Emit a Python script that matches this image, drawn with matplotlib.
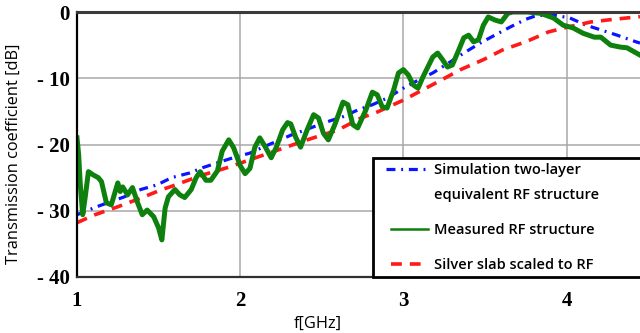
import matplotlib
matplotlib.use("Agg")
import matplotlib.pyplot as plt
from matplotlib.legend_handler import HandlerLine2D
from matplotlib.lines import Line2D
import numpy as np

# frequency axis [GHz] and transmission [dB]
sim_f = [1.00, 1.12, 1.20, 1.29, 1.39, 1.49, 1.58, 1.69, 1.77, 1.88, 1.97, 2.06, 2.14,
         2.31, 2.53, 2.63, 2.72, 2.81, 2.90, 3.00, 3.09, 3.18, 3.29, 3.37, 3.47, 3.56,
         3.66, 3.75, 3.82, 3.93, 4.02, 4.12, 4.21, 4.31, 4.39, 4.45]
sim_db = [-30.6, -29.4, -28.7, -27.9, -26.8, -26.1, -25.0, -24.3, -23.5, -22.6, -21.9,
          -21.3, -20.4, -18.6, -16.6, -15.8, -14.8, -14.0, -13.0, -11.5, -10.3, -9.2,
          -7.5, -6.2, -4.7, -3.5, -2.2, -1.1, -0.5, -0.5, -0.9, -2.0, -2.7, -3.5, -4.2, -4.7]

meas_f = [1.00, 1.01, 1.02, 1.035, 1.05, 1.07, 1.10, 1.13, 1.15, 1.18, 1.21, 1.25, 1.265,
          1.28, 1.31, 1.34, 1.37, 1.40, 1.43, 1.47, 1.50, 1.52, 1.54, 1.56, 1.60, 1.63,
          1.66, 1.70, 1.73, 1.755, 1.79, 1.82, 1.86, 1.89, 1.93, 1.96, 2.00, 2.03, 2.06,
          2.09, 2.12, 2.15, 2.19, 2.22, 2.26, 2.29, 2.31, 2.34, 2.37, 2.41, 2.45, 2.48,
          2.51, 2.54, 2.58, 2.63, 2.66, 2.69, 2.72, 2.77, 2.81, 2.84, 2.87, 2.90, 2.94,
          2.97, 3.00, 3.03, 3.06, 3.09, 3.12, 3.18, 3.21, 3.24, 3.27, 3.30, 3.34, 3.37,
          3.40, 3.43, 3.46, 3.49, 3.52, 3.56, 3.60, 3.64, 3.67, 3.76, 3.84, 3.92, 3.98,
          4.04, 4.10, 4.17, 4.21, 4.27, 4.33, 4.37, 4.45]
meas_db = [-19.0, -21.5, -26.0, -30.6, -28.0, -24.1, -24.6, -25.0, -25.6, -28.8, -29.1,
           -25.8, -27.1, -26.4, -27.6, -26.5, -28.7, -30.6, -29.9, -30.9, -32.6, -34.4,
           -29.6, -27.9, -26.8, -27.6, -28.0, -26.8, -25.0, -24.1, -25.4, -25.4, -24.0,
           -21.0, -19.3, -20.5, -23.2, -24.4, -23.6, -20.4, -19.0, -20.2, -22.0, -20.5,
           -17.8, -16.7, -16.9, -18.9, -20.4, -17.8, -15.5, -16.0, -18.3, -19.3, -17.0,
           -13.6, -14.0, -17.0, -17.5, -14.8, -12.1, -12.5, -14.3, -14.5, -11.8, -9.2,
           -8.7, -9.5, -11.0, -11.5, -9.8, -6.8, -6.2, -7.2, -8.3, -8.0, -5.7, -3.9,
           -3.5, -4.5, -4.2, -2.0, -0.75, -1.2, -1.5, -0.2, 0.0, 0.0, -0.2, -0.9, -2.0,
           -2.4, -3.2, -3.8, -3.8, -5.0, -5.3, -5.4, -6.5]

slab_f = [1.00, 1.11, 1.25, 1.40, 1.52, 1.57, 1.77, 1.92, 2.06, 2.20, 2.41, 2.60, 2.74,
          2.84, 3.00, 3.23, 3.35, 3.49, 3.61, 3.75, 3.89, 4.02, 4.15, 4.29, 4.41, 4.45]
slab_db = [-31.8, -30.6, -29.4, -28.0, -26.8, -26.4, -24.6, -23.5, -22.3, -21.1, -19.3,
           -17.8, -16.0, -15.1, -13.3, -10.3, -8.7, -7.2, -5.7, -4.5, -3.0, -2.2, -1.5,
           -1.1, -0.8, -0.7]

x_ticks = [1, 2, 3, 4]
y_ticks = [-40, -30, -20, -10, 0]
y_ticklabels = ["- 40", "- 30", "- 20", "- 10", "0"]

labels = ["Simulation two-layer\nequivalent RF structure",
          "Measured RF structure",
          "Silver slab scaled to RF"]


class ShiftedHandler(HandlerLine2D):
    # legend line that can be moved up (for the two-line label)
    def __init__(self, dy=0.0, lw=None, **kw):
        super().__init__(**kw)
        self.dy = dy
        self.lw = lw

    def create_artists(self, legend, orig_handle, xdescent, ydescent,
                       width, height, fontsize, trans):
        arts = super().create_artists(legend, orig_handle, xdescent, ydescent,
                                      width, height, fontsize, trans)
        for a in arts:
            if isinstance(a, Line2D):
                a.set_ydata(np.asarray(a.get_ydata()) + self.dy * fontsize)
                if self.lw:
                    a.set_linewidth(self.lw)
        return arts


fig = plt.figure(figsize=(6.4, 3.33), dpi=100)
ax = fig.add_axes([77 / 640, 1 - 277 / 333, 563 / 640, 265 / 333])

l1, = ax.plot(sim_f, sim_db, color="#0a14ff", lw=2.3, dashes=(2.8, 1.8, 0.6, 1.8))
l3, = ax.plot(slab_f, slab_db, color="#ff1a1a", lw=2.6, dashes=(3.0, 2.2))
l2, = ax.plot(meas_f, meas_db, color="#0d800d", lw=3.6, solid_joinstyle="round")

ax.set_xlim(1, 4.45)
ax.set_ylim(-40, 0)
ax.set_xticks(x_ticks)
ax.set_yticks(y_ticks)
ax.set_yticklabels(y_ticklabels)
ax.tick_params(length=0)
ax.tick_params(axis="y", pad=5)
ax.tick_params(axis="x", pad=10)
for t in ax.get_xticklabels() + ax.get_yticklabels():
    t.set_fontfamily("Liberation Serif")
    t.set_fontweight("bold")
    t.set_fontsize(15)

ax.grid(True, color="#a8a8a8", lw=1.1)
ax.set_axisbelow(True)
ax.spines["right"].set_visible(False)
ax.spines["top"].set_color("#3a3a3a")
ax.spines["top"].set_linewidth(2.2)
ax.spines["left"].set_linewidth(1.6)
ax.spines["bottom"].set_color("#303030")
ax.spines["bottom"].set_linewidth(1.6)

ax.set_ylabel("Transmission coefficient [dB]", family="Open Sans", fontsize=11.8)
ax.yaxis.set_label_coords(-0.098, 0.465)
ax.set_xlabel("f[GHz]", family="Open Sans", fontsize=11.8)
ax.xaxis.set_label_coords(0.428, -0.145)

leg = ax.legend([l1, l2, l3], labels, loc="lower left",
                bbox_to_anchor=(0.526, 0.0, 0.6, 0.46), mode="expand",
                borderaxespad=0, fancybox=False, edgecolor="black",
                framealpha=1, handlelength=3.4, handletextpad=0.4,
                labelspacing=1.45, borderpad=0.35,
                handler_map={l1: ShiftedHandler(dy=0.95, xpad=0.55),
                             l2: ShiftedHandler(xpad=0.9, lw=1.8),
                             l3: ShiftedHandler(xpad=0.9)},
                prop={"family": "Open Sans", "size": 10.5, "weight": "semibold"})
leg.get_frame().set_linewidth(2)
leg.get_texts()[0].set_linespacing(2.0)

fig.savefig("out.png", dpi=100)
